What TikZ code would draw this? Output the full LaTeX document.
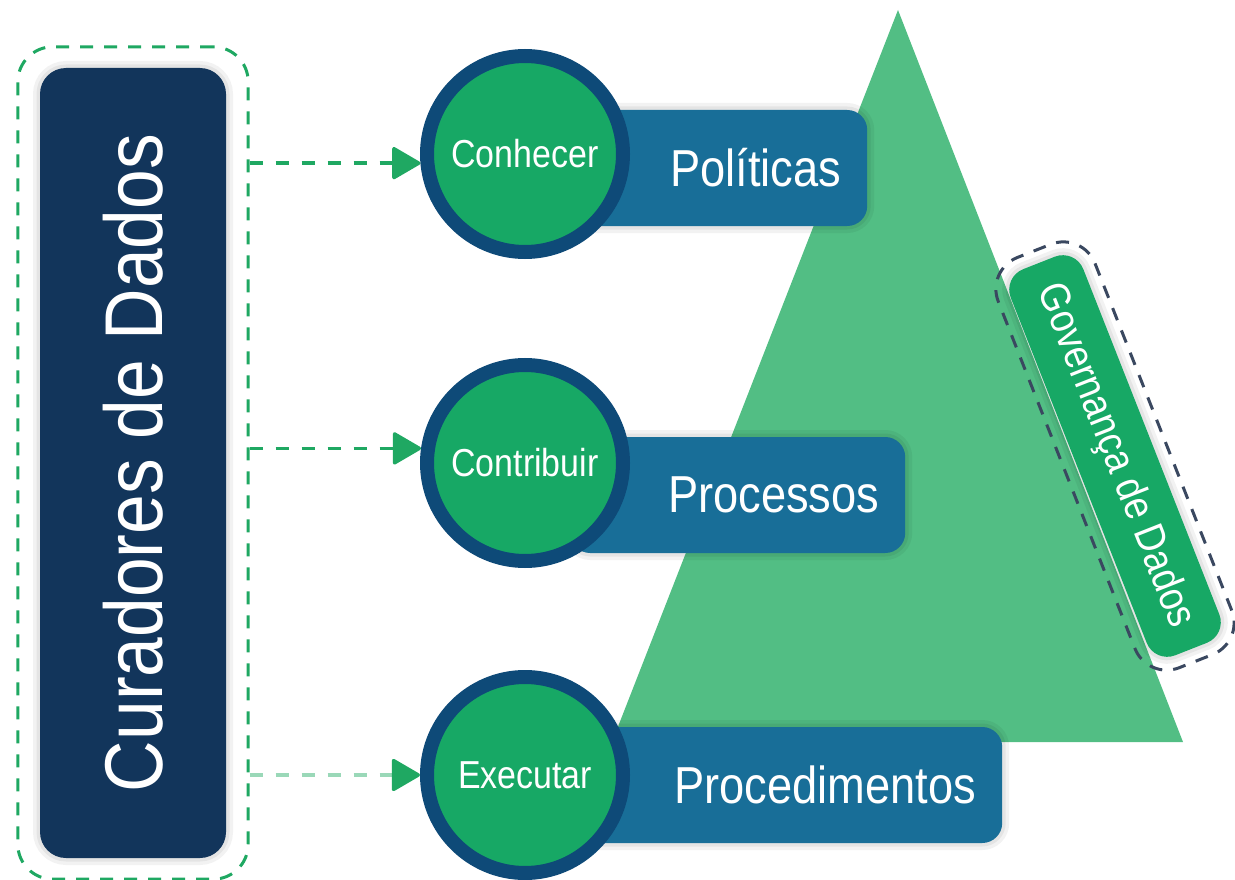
\documentclass[tikz,border=0pt]{standalone}
\usepackage{fontspec}
\setmainfont{Liberation Sans}[FakeStretch=0.87]
\usetikzlibrary{arrows.meta,shapes,positioning,fit}

\definecolor{navy}{HTML}{12355B}
\definecolor{ringblue}{HTML}{0E4A78}
\definecolor{stagegreen}{HTML}{17A865}
\definecolor{barblue}{HTML}{186E98}
\definecolor{trigreen}{HTML}{52BE84}
\definecolor{framegreen}{HTML}{1FA862}
\definecolor{slate}{HTML}{3A4860}

\pgfdeclarelayer{back}
\pgfsetlayers{back,main}

\begin{document}
\begin{tikzpicture}[
    x=1pt, y=-1pt,
    glow/.style={preaction={draw=black,draw opacity=0.05,line width=14pt},preaction={draw=black,draw opacity=0.06,line width=7pt}},
    curbox/.style={rectangle,fill=navy,text=white,rounded corners=26pt,minimum width=790pt,minimum height=186pt,inner sep=0pt,font=\fontsize{82}{90}\selectfont,glow},
    dashframe/.style={rectangle,draw=framegreen,line width=3pt,dash pattern=on 13pt off 11pt,rounded corners=35pt},
    stage/.style={circle,draw=ringblue,line width=14pt,fill=stagegreen,minimum size=196pt,inner sep=0pt,text=white,font=\fontsize{39}{44}\selectfont},
    bar/.style={rectangle,fill=barblue,rounded corners=20pt,minimum height=116pt,inner xsep=26pt,align=right,text=white,font=\fontsize{52}{58}\selectfont,glow},
    govbox/.style={rectangle,fill=stagegreen,rounded corners=22pt,minimum width=415pt,minimum height=78pt,inner sep=0pt,text=white,font=\fontsize{42}{48}\selectfont,glow},
    pyramid/.style={fill=trigreen},
    link/.style={draw=framegreen,line width=3.5pt,dash pattern=on 13pt off 13pt,-{Triangle[length=30pt,width=34pt,round,color=framegreen]}}
]
\useasboundingbox (0,0) rectangle (1235,880);

% Curators
\node[curbox, rotate=90] (curators) at (133,463) {Curadores de Dados};
\node[dashframe, fit=(curators), inner xsep=22pt, inner ysep=21pt] (curators_frame) {};

% Stages
\node[stage] (know) at (525,154) {Conhecer};
\node[stage] (contribute) at (525,463) {Contribuir};
\node[stage] (execute) at (525,775) {Executar};

% Pyramid and levels
\coordinate (apex) at (898,10);
\coordinate (base_left) at (612,742);
\coordinate (base_right) at (1183,742);
\begin{pgfonlayer}{back}
\fill[pyramid] (apex) -- (base_right) -- (base_left) -- cycle;
\node[bar, text width=255pt, right=-70pt of know, yshift=-14pt] (policies) {Políticas};
\node[bar, text width=283pt, right=-60pt of contribute, yshift=-32pt] (processes) {Processos};
\node[bar, text width=375pt, right=-55pt of execute, yshift=-10pt] (procedures) {Procedimentos};
\end{pgfonlayer}

% Governance
\node[govbox, rotate=-68.5] (governance) at (1115,456) {Governança de Dados};
\node[dashframe, draw=slate, rotate=-68.5, minimum width=441pt, minimum height=104pt, rounded corners=34pt] (governance_frame) at (governance) {};

% Connections
\draw[link] (curators_frame.east |- know.185) -- (know.185);
\draw[link] (curators_frame.east |- contribute.172) -- (contribute.172);
\draw[link, draw=framegreen!45] (curators_frame.east |- execute.180) -- (execute.180);

\end{tikzpicture}
\end{document}
